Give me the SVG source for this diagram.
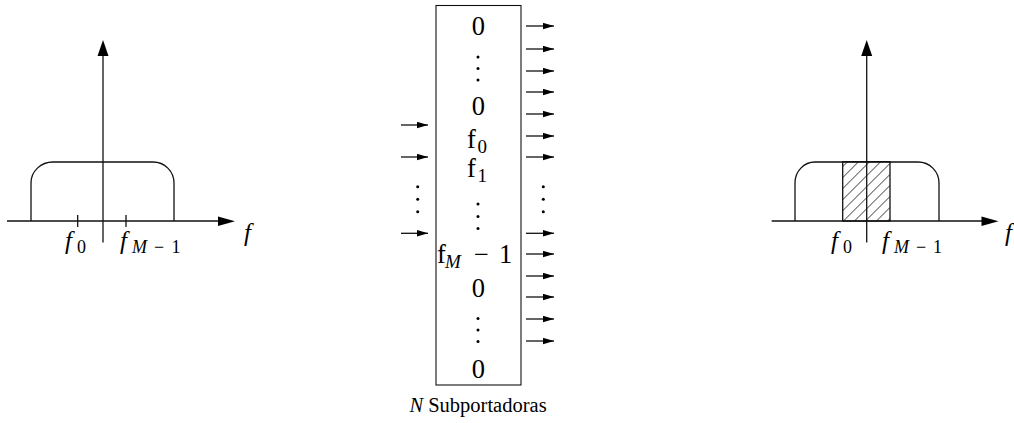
<svg xmlns="http://www.w3.org/2000/svg" width="1014" height="423" viewBox="0 0 1014 423">
<style>
.ln{stroke:#111;stroke-width:1.3;fill:none}
.bx{stroke:#111;stroke-width:1.1;fill:none}
.ah{fill:#000;stroke:none}
.pl{font-size:25px}
.sb{font-size:18px}
.bt{font-size:26.5px}
.bs{font-size:19px}
.dot{fill:#000}
</style>
<defs>
<pattern id="hatch" patternUnits="userSpaceOnUse" width="7.8" height="7.8" patternTransform="translate(842.7,221) rotate(45)">
<line x1="0" y1="0" x2="0" y2="7.8" stroke="#111" stroke-width="1.3"/>
</pattern>
<marker id="sa" markerWidth="12" markerHeight="8" refX="11" refY="3.2" orient="auto" markerUnits="userSpaceOnUse">
<path d="M0,0 L11,3.2 L0,6.4 Z" fill="#000"/>
</marker>
</defs>

<g id="spectrum-left" font-family="Liberation Serif, DejaVu Serif, serif">
<path class="ln" d="M7,221 H220"/>
<polygon class="ah" points="218,216.5 235,221.3 218,226"/>
<path class="ln" d="M103,242.5 V52"/>
<polygon class="ah" points="97.5,56 103,40 108.5,56"/>
<path class="ln" d="M31,221 V183 A22,21 0 0 1 53,162 H153 A21,21 0 0 1 174,183 V221"/>
<line class="ln" x1="77.7" y1="215" x2="77.7" y2="227"/>
<line class="ln" x1="126" y1="215" x2="126" y2="227"/>
<text class="pl" font-style="italic" x="65" y="249">f</text>
<text class="sb" x="77" y="253">0</text>
<text class="pl" font-style="italic" x="120" y="249">f</text>
<text class="sb" font-style="italic" x="132" y="253">M</text>
<text class="sb" x="154" y="253">−</text>
<text class="sb" x="171.5" y="253">1</text>
<text class="pl" font-style="italic" x="244" y="241">f</text>
</g>

<g id="subcarrier-block" font-family="Liberation Serif, DejaVu Serif, serif">
<rect class="bx" x="436" y="5.5" width="85" height="379.5"/>
<text class="bt" x="478.3" y="35" text-anchor="middle">0</text>
<circle class="dot" cx="478" cy="57" r="1.5"/>
<circle class="dot" cx="478" cy="68.5" r="1.5"/>
<circle class="dot" cx="478" cy="80" r="1.5"/>
<text class="bt" x="478.3" y="115" text-anchor="middle">0</text>
<text class="bt" x="467" y="148">f</text>
<text class="bs" x="477.5" y="153">0</text>
<text class="bt" x="467" y="177">f</text>
<text class="bs" x="477.5" y="182">1</text>
<circle class="dot" cx="478" cy="204" r="1.5"/>
<circle class="dot" cx="478" cy="216.5" r="1.5"/>
<circle class="dot" cx="478" cy="228.5" r="1.5"/>
<text class="bt" x="437" y="263">f</text>
<text class="bs" font-style="italic" x="445" y="268">M</text>
<text class="bt" x="474" y="263">−</text>
<text class="bt" x="499" y="263">1</text>
<text class="bt" x="478.3" y="297" text-anchor="middle">0</text>
<circle class="dot" cx="478" cy="318.5" r="1.5"/>
<circle class="dot" cx="478" cy="330" r="1.5"/>
<circle class="dot" cx="478" cy="341.5" r="1.5"/>
<text class="bt" x="478.3" y="378" text-anchor="middle">0</text>
<text font-size="20.5" x="478" y="412" text-anchor="middle"><tspan font-style="italic">N</tspan> Subportadoras</text>
</g>

<g id="connectors">
<g class="ln" stroke-width="1.2" marker-end="url(#sa)">
<line x1="401" y1="125" x2="428" y2="125"/>
<line x1="401" y1="157" x2="428" y2="157"/>
<line x1="401" y1="233.3" x2="428" y2="233.3"/>
<line x1="526" y1="26" x2="554" y2="26"/>
<line x1="526" y1="49" x2="554" y2="49"/>
<line x1="526" y1="71" x2="554" y2="71"/>
<line x1="526" y1="92" x2="554" y2="92"/>
<line x1="526" y1="114" x2="554" y2="114"/>
<line x1="526" y1="136" x2="554" y2="136"/>
<line x1="526" y1="157" x2="554" y2="157"/>
<line x1="526" y1="233.3" x2="554" y2="233.3"/>
<line x1="526" y1="254" x2="554" y2="254"/>
<line x1="526" y1="276" x2="554" y2="276"/>
<line x1="526" y1="297" x2="554" y2="297"/>
<line x1="526" y1="319" x2="554" y2="319"/>
<line x1="526" y1="341" x2="554" y2="341"/>
</g>
<circle class="dot" cx="417.7" cy="186.7" r="1.5"/>
<circle class="dot" cx="417.7" cy="199.3" r="1.5"/>
<circle class="dot" cx="417.7" cy="211.7" r="1.5"/>
<circle class="dot" cx="543.3" cy="186.7" r="1.5"/>
<circle class="dot" cx="543.3" cy="199.3" r="1.5"/>
<circle class="dot" cx="543.3" cy="211.7" r="1.5"/>
</g>

<g id="spectrum-right" font-family="Liberation Serif, DejaVu Serif, serif">
<rect x="842.7" y="161.7" width="47.3" height="59.3" fill="url(#hatch)" stroke="#111" stroke-width="1.3"/>
<path class="ln" d="M771.7,221 H983"/>
<polygon class="ah" points="981.5,216.5 998.5,221.3 981.5,226"/>
<path class="ln" d="M866.7,242.5 V52"/>
<polygon class="ah" points="861.2,56 866.7,40 872.2,56"/>
<path class="ln" d="M795,221 V183 A20,21 0 0 1 815,162 H918 A21,21 0 0 1 939,183 V221"/>
<text class="pl" font-style="italic" x="831" y="249">f</text>
<text class="sb" x="843" y="253">0</text>
<text class="pl" font-style="italic" x="882" y="249">f</text>
<text class="sb" font-style="italic" x="894" y="253">M</text>
<text class="sb" x="916" y="253">−</text>
<text class="sb" x="933" y="253">1</text>
<text class="pl" font-style="italic" x="1005" y="241">f</text>
</g>
</svg>
